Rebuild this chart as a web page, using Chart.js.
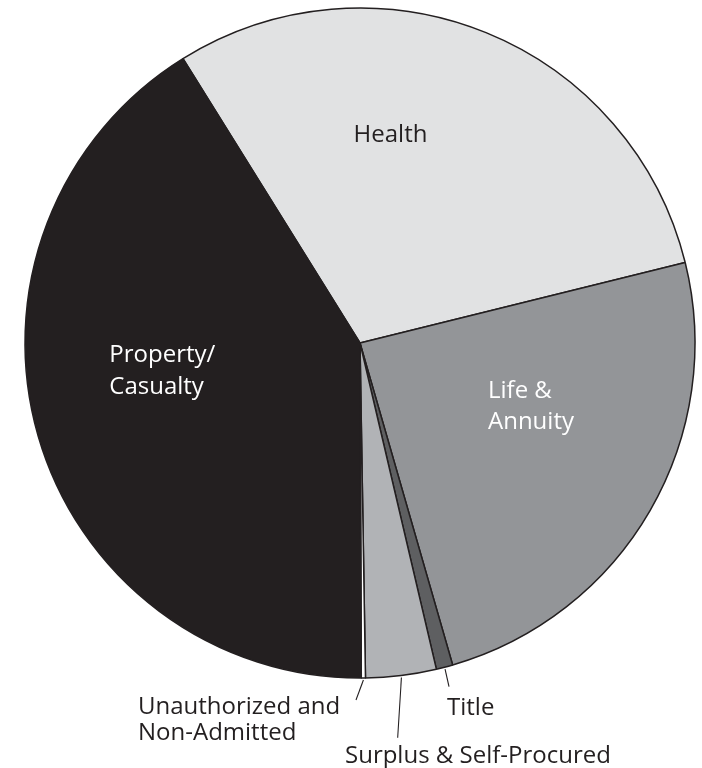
<!DOCTYPE html>
<html>
<head>
<meta charset="utf-8">
<script src="https://cdn.jsdelivr.net/npm/chart.js@4.4.0/dist/chart.umd.min.js"></script>
<style>
  html, body { margin: 0; padding: 0; background: #ffffff; }
  #wrap { width: 702px; height: 768px; position: relative; }
</style>
</head>
<body>
<div id="wrap"><canvas id="c"></canvas></div>
<script>
// ---- data ----
const categories = ["Health", "Life & Annuity", "Title", "Surplus & Self-Procured", "Unauthorized and Non-Admitted", "Property/Casualty"];
const shares = [30.0, 24.4, 0.8, 3.4, 0.2, 41.2];
const labelLines = [["Health"], ["Life &", "Annuity"], ["Title"], ["Surplus & Self-Procured"], ["Unauthorized and", "Non-Admitted"], ["Property/", "Casualty"]];

// ---- styles ----
const sliceColors = ["#e1e2e3", "#939598", "#5e5f61", "#b1b3b6", "#ffffff", "#231f20"];
const textColors = ["#231f20", "#ffffff", "#231f20", "#231f20", "#231f20", "#ffffff"];
const edge = "#231f20";
// label placement relative to the pie centre
const labelPlace = [
  { dx: 30.5, dy: -201, align: "center", lh: 31, leader: null },
  { dx: 128, dy: 55.3, align: "left", lh: 31, leader: null },
  { dx: 87, dy: 372, align: "left", lh: 27, leader: [89, 343.7] },
  { dx: -15, dy: 419.5, align: "left", lh: 27, leader: [37.7, 394.7] },
  { dx: -222, dy: 371.3, align: "left", lh: 26, leader: [-4, 357] },
  { dx: -250.7, dy: 18.7, align: "left", lh: 31.8, leader: null }
];

const labelPlugin = {
  id: "sliceLabels",
  afterDraw(chart) {
    const ctx = chart.ctx;
    const meta = chart.getDatasetMeta(0);
    ctx.save();
    ctx.font = "24px 'Open Sans'";
    meta.data.forEach((arc, i) => {
      const p = labelPlace[i];
      const cx = arc.x, cy = arc.y;
      if (p.leader) {
        const mid = (arc.startAngle + arc.endAngle) / 2;
        const r0 = arc.outerRadius + 2;
        ctx.beginPath();
        ctx.strokeStyle = edge;
        ctx.lineWidth = 1.1;
        ctx.moveTo(cx + Math.cos(mid) * r0, cy + Math.sin(mid) * r0);
        ctx.lineTo(cx + p.leader[0], cy + p.leader[1]);
        ctx.stroke();
      }
      ctx.fillStyle = textColors[i];
      ctx.textAlign = p.align;
      ctx.textBaseline = "alphabetic";
      labelLines[i].forEach((t, k) => {
        ctx.fillText(t, cx + p.dx, cy + p.dy + k * p.lh);
      });
    });
    ctx.restore();
  }
};

new Chart(document.getElementById("c"), {
  type: "pie",
  data: {
    labels: categories,
    datasets: [{
      data: shares,
      backgroundColor: sliceColors,
      borderColor: edge,
      borderWidth: 1.5,
      hoverOffset: 0
    }]
  },
  options: {
    responsive: true,
    maintainAspectRatio: false,
    animation: false,
    rotation: -31.9,
    radius: 335,
    layout: { padding: { left: 25, right: 7, top: 8, bottom: 90 } },
    plugins: { legend: { display: false }, tooltip: { enabled: false } }
  },
  plugins: [labelPlugin]
});
</script>
</body>
</html>
